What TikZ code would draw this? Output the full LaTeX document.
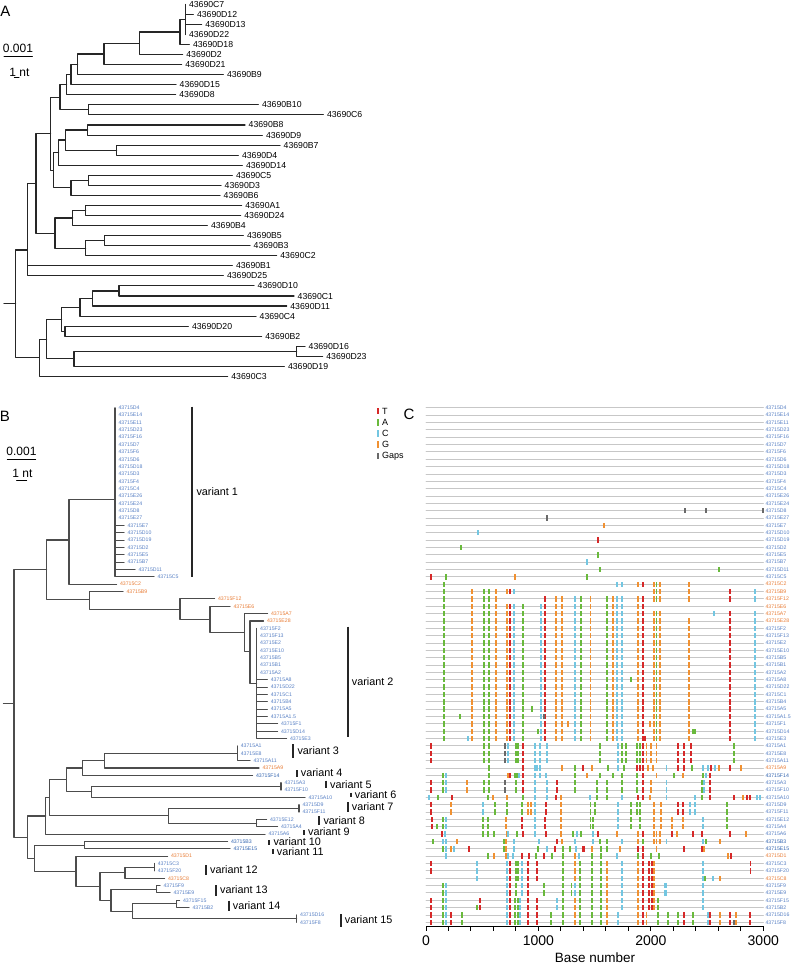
\documentclass[tikz,border=0pt]{standalone}
\usepackage{fontspec}
\setmainfont{Liberation Sans}

\definecolor{lb}{RGB}{88,128,196}
\definecolor{lo}{RGB}{232,125,55}
\definecolor{ld}{RGB}{50,100,175}
\definecolor{ntT}{RGB}{214,40,40}
\definecolor{ntA}{RGB}{105,185,60}
\definecolor{ntC}{RGB}{115,198,225}
\definecolor{ntG}{RGB}{240,145,50}
\definecolor{ntN}{RGB}{105,105,105}

% one row of the alignment: base/letter pairs
\newcommand{\mrow}[2]{\edef\mlist{#2}%
  \foreach \b/\s in \mlist {\fill[fill=nt\s] ({426+0.11243*\b-0.9},{407.8+(#1-1)*7.35-2.7}) rectangle ++(1.8,5.4);}}

% shared patterns
\def\mutsA{163/A,406/G,516/A,563/A,623/G,723/G,747/T,786/C,860/A,1020/C,1058/T,1153/G,1212/G,1325/C,1376/A,1464/G,1607/A,1660/G,1702/C,1740/C,1888/G,1927/T}
\def\mutsB{2028/G,2051/A,2081/G,2704/T,2926/C}
\def\mutsV{41/T,516/A,563/A,703/N,732/C,797/A,821/A,860/T,969/C,1014/C,1073/C,1547/A,1711/C,1740/A,1779/A,1880/A,1903/A,1927/T,1962/G,1998/G,2051/G,2238/T,2295/T,2357/T,2739/A}
\def\mutsE{41/T,148/A,178/C,362/G,516/A,563/A,703/N,797/A,860/T,969/C,1073/C,1162/T,1325/A,1518/A,1607/A,1740/A,1880/A,1933/T,1998/G,2140/C,2452/A,2472/C,2526/T}
\def\mutsG{41/T,219/G,510/C,614/A,717/A,851/A,910/G,931/G,969/C,1064/T,1201/G,1464/A,1503/A,1711/C,1820/A,1880/A,1903/A,2028/G,2090/G,2238/T,2289/T,2348/C,2392/C,2674/A}
\def\mutsH{50/T,148/A,178/C,510/A,554/A,711/G,851/T,969/C,1058/T,1201/G,1464/A,1482/A,1711/C,1820/A,1903/A,2028/G,2090/G,2185/G,2283/G,2461/C,2674/A}
\def\mutsL{451/C,717/C,747/T,797/A,821/A,851/C,904/T,984/T,1215/A,1325/G,1370/A,1473/A,1556/A,1607/G,1740/C,1888/G,1927/T,1983/T,2007/T,2028/G,2461/C}
\def\mutsM{148/A,178/C,717/C,747/T,797/A,851/C,904/T,1049/A,1215/A,1295/A,1325/C,1370/A,1473/A,1556/A,1607/G,1740/C,1888/G,1927/T,1983/T,2007/T,2028/G,2126/C,2140/C,2461/C}
\def\mutsP{41/T,148/A,178/C,480/T,717/C,747/T,792/A,821/A,836/C,904/T,984/T,1162/C,1215/A,1325/G,1370/A,1473/A,1556/A,1607/G,1740/C,1888/G,1927/T,1983/T,2007/T,2028/G,2066/A,2461/C}
\def\mutsQ{41/T,148/A,178/C,219/T,317/A,717/C,747/T,792/A,821/A,836/C,904/T,984/T,1109/A,1215/A,1325/G,1370/A,1473/A,1556/A,1607/G,1705/C,1888/G,1927/T,1962/G,2066/A,2155/A,2244/A,2295/T,2372/A,2511/C,2526/T,2615/G,2704/T,2757/G,2881/T}

\begin{document}
\begin{tikzpicture}[x=1pt,y=-1pt,line cap=round,line join=round,
    treeA/.style={line width=1.1pt,draw=black!85},
    treeB/.style={line width=1.1pt,draw=black!70},
    lblA/.style={anchor=west,inner xsep=3.5pt,inner ysep=0pt,font=\fontsize{8.7}{9}\selectfont},
    lblB/.style={anchor=west,inner xsep=3.3pt,inner ysep=0pt,font=\fontsize{5.2}{6}\selectfont},
    lblC/.style={anchor=west,inner xsep=2pt,inner ysep=0pt,font=\fontsize{5.2}{6}\selectfont},
    vbar/.style={line width=1.8pt,draw=black!85,line cap=butt},
    vlbl/.style={anchor=west,inner sep=0pt,text height=7.6pt,text depth=0.4pt,font=\fontsize{10.8}{12}\selectfont},
    panel/.style={inner sep=0pt,font=\fontsize{15}{16}\selectfont},
    sbtxt/.style={inner sep=0pt,font=\fontsize{12}{13}\selectfont},
    rowline/.style={draw=black!22,line width=0.9pt},
    axis/.style={line width=1pt,draw=black,line cap=butt},
    tick/.style={inner sep=0pt,font=\fontsize{14}{15}\selectfont},
    lgd/.style={anchor=west,inner sep=0pt,font=\fontsize{9}{10}\selectfont}]
    \useasboundingbox (0,0) rectangle (800,967);

    % ---------------- Panel A ----------------
    \node[panel] (pA) at (5.5,11.3) {A};
    \node[sbtxt] (sA1) at (18,48) {0.001};
    \draw[line width=1pt] (4,56) -- (32.3,56);
    \node[sbtxt] (sA2) at (19.5,72) {1 nt};
    \draw[line width=1pt] (14.3,77.5) -- (19,77.5);

    \foreach \n/\x/\y in {an0/185.3/19.4, an1/180/32, an2/139.3/43.3, an3/104/54,
        an4/77.7/64.4, an5/71/74.6, an6/66.7/84.7, an7/88.3/109.9, an8/60/97.3,
        an9/50.7/133.8, an10/87.7/130, an11/116.7/150.1, an12/65.3/140,
        an13/58.7/152.6, an14/88.3/180.3, an15/71/187.9, an16/53.3/170.2,
        an17/36/183.5, an18/55/233.1, an19/72.7/218, an20/85.7/210.5,
        an21/104.3/240.7, an22/85.7/248.2, an23/27.3/250, an24/119/291,
        an25/92.3/298.5, an26/80/307.3, an27/65/331.2, an28/61.7/319.3,
        an29/46.7/339.1, an30/296.7/351.3, an31/74/358.9, an32/39.3/357.8,
        anR/15.7/303.9, anS/4/303.9}
        \coordinate (\n) at (\x,\y);

    \foreach \n/\x/\y in {C7/185.3/4.3, D12/193.3/14.4, D13/201.7/24.4, D22/185.3/34.5,
        D18/189.3/44.5, D2/182.7/54.6, D21/181.7/64.7, B9/223.3/74.7, D15/176/84.8,
        D8/175.7/94.8, B10/258.3/104.9, C6/323.3/114.9, B8/245/125, D9/262.3/135.1,
        B7/280/145.1, D4/238.3/155.2, D14/242.3/165.2, C5/232.3/175.3, D3/221/185.3,
        B6/220/195.4, A1/241.7/205.5, D24/240.7/215.5, B4/207.3/225.6, B5/243.3/235.6,
        B3/250/245.7, C2/276.7/255.8, B1/232.3/265.8, D25/223.3/275.9, D10/254/285.9,
        C1/294/296, D11/286.7/306, C4/256/316.1, D20/188.3/326.2, B2/261.7/336.2,
        D16/305/346.3, D23/322.7/356.3, D19/284.3/366.4, C3/227.7/376.5}
        \node[lblA] (a\n) at (\x,\y) {43690\n};

    \foreach \p/\c in {an0/aC7, an0/aD12, an0/aD13, an0/aD22, an1/aD18, an2/aD2,
        an3/aD21, an4/aB9, an5/aD15, an6/aD8, an7/aB10, an7/aC6, an10/aB8, an10/aD9,
        an11/aB7, an11/aD4, an13/aD14, an14/aC5, an14/aD3, an15/aB6, an20/aA1,
        an20/aD24, an19/aB4, an21/aB5, an21/aB3, an22/aC2, an23/aB1, an23/aD25,
        an24/aD10, an24/aC1, an25/aD11, an26/aC4, an27/aD20, an27/aB2, an30/aD16,
        an30/aD23, an31/aD19, an32/aC3}
        \draw[treeA] (\p) |- (\c.west);
    \foreach \p/\c in {an1/an0, an2/an1, an3/an2, an4/an3, an5/an4, an6/an5, an8/an6,
        an8/an7, an9/an8, an12/an10, an12/an11, an13/an12, an15/an14, an16/an13,
        an16/an15, an9/an16, an17/an9, an19/an20, an22/an21, an18/an19, an18/an22,
        an17/an18, an23/an17, an25/an24, an26/an25, an28/an26, an28/an27, an31/an30,
        an29/an28, an29/an31, an32/an29, anR/an23, anR/an32}
        \draw[treeA] (\p) |- (\c);
    \draw[treeA] (anS) -- (anR);

    % ---------------- Panel B ----------------
    \node[panel] (pB) at (5,416) {B};
    \node[sbtxt] (sB1) at (21.5,451) {0.001};
    \draw[line width=1pt] (7.3,459) -- (35.7,459);
    \node[sbtxt] (sB2) at (22.5,473) {1 nt};
    \draw[line width=1pt] (16.7,480) -- (26.7,480);

    \foreach \n/\x/\y in {bn0/14/703.3, bnS/3.3/703.3, bn1/115/499.3, bn2/69/540,
        bn9/46.7/569.6, bn3/89.3/599.9, bn4/180/609.5, bn5/210/619.5, bn6/244.3/632.3,
        bn7/250/651.8, bn8/256.7/683.4, bn10/237.3/753.25, bn11/104.3/760.6,
        bn12/82.3/768, bn13/281/786.3, bn14/91.7/791.8, bn15/66.3/779.9,
        bn16/299/808.4, bn17/256.7/823.1, bn18/168.3/815.75, bn19/49.3/797.8,
        bn20/45.7/815.95, bn21/84.3/845.1, bn22/154.3/867.2, bn23/125/872.7,
        bn24/156.7/889.2, bn25/176.7/903.9, bn26/296.7/918.6, bn27/132.7/911.3,
        bn28/111/900.3, bn29/100/886.5, bn30/76/871.3, bn31/34.3/858.2,
        bn32/27.3/837.1}
        \coordinate (\n) at (\x,\y);

    % leaves of B and rows of C share the same order
    \foreach \n/\x/\c [count=\i] in {D4/115/lb, E14/115/lb, E11/115/lb, D23/115/lb,
        F16/115/lb, D7/115/lb, F6/115/lb, D6/115/lb, D18/115/lb, D3/115/lb, F4/115/lb,
        C4/115/lb, E26/115/lb, E24/115/lb, D8/115/lb, E27/115/lb, E7/124/lb,
        D10/124/lb, D19/124/lb, D2/124/lb, E5/124/lb, B7/124/lb, D11/135/lb,
        C5/154/lb, C2/116.5/lo, B9/123/lo, F12/214.5/lo, E6/230/lo, A7/267.5/lo,
        E28/263.5/lo, F2/256.7/lb, F13/256.7/lb, E2/256.7/lb, E10/256.7/lb,
        B5/256.7/lb, B1/256.7/lb, A2/256.7/lb, A8/267.3/lb, D22/267.3/lb,
        C1/267.3/lb, B4/267.3/lb, A5/267.3/lb, A1.5/267.3/lb, F1/277.5/lb,
        D14/277.5/lb, E3/286.5/lb, A1/237.3/lb, E8/237.3/lb, A11/250/lb, A9/259/lo,
        F14/252.5/ld, A3/281/lb, F10/281/lb, A10/305/lb, D9/299/lb, F11/299/lb,
        E12/266.5/lb, A4/277.5/lb, A6/265/lb, B3/227.5/ld, E15/230/ld, D1/167.5/lo,
        C3/154.3/lb, F20/154.3/lb, C8/164.5/lo, F9/160/lb, E9/170/lb, F15/179.5/lb,
        B2/189/lb, D16/296.7/lb, F8/296.7/lb}
    {
        \node[lblB,text=\c] (bl\i) at (\x,{407.8+(\i-1)*7.35}) {43715\n};
        \node[lblC,text=\c] (cl\i) at (763.3,{407.8+(\i-1)*7.35}) {43715\n};
        \draw[rowline] (426,{407.8+(\i-1)*7.35}) -- (cl\i.west);
    }

    \foreach \i in {1,...,24} \draw[treeB] (bn1) |- (bl\i.west);
    \foreach \i in {31,...,46} \draw[treeB] (bn8) |- (bl\i.west);
    \foreach \p/\i in {bn2/25, bn3/26, bn4/27, bn5/28, bn6/29, bn7/30, bn10/47,
        bn10/48, bn10/49, bn11/50, bn12/51, bn13/52, bn13/53, bn14/54, bn16/55,
        bn16/56, bn17/57, bn17/58, bn20/59, bn21/60, bn21/61, bn30/62, bn22/63,
        bn22/64, bn23/65, bn24/66, bn24/67, bn25/68, bn25/69, bn26/70, bn26/71}
        \draw[treeB] (\p) |- (bl\i.west);
    \foreach \p/\c in {bn2/bn1, bn9/bn2, bn9/bn3, bn3/bn4, bn4/bn5, bn5/bn6, bn6/bn7,
        bn7/bn8, bn0/bn9, bn0/bn32, bn11/bn10, bn12/bn11, bn15/bn12, bn14/bn13,
        bn15/bn14, bn19/bn15, bn18/bn16, bn18/bn17, bn19/bn18, bn20/bn19,
        bn32/bn20, bn31/bn21, bn23/bn22, bn29/bn23, bn28/bn24, bn27/bn25,
        bn27/bn26, bn28/bn27, bn29/bn28, bn30/bn29, bn31/bn30, bn32/bn31}
        \draw[treeB] (\p) |- (\c);
    \draw[treeB] (bnS) -- (bn0);

    % variant brackets (bar x, bar ends, label y)
    \foreach \k/\x/\ya/\yb/\ly in {1/192.3/406.7/576.7/491.7, 2/347.7/626.7/736.7/681.7,
        3/293.3/744.3/757.7/751, 4/296.7/770/776.7/773.3, 5/326/780.7/788.3/784.5,
        6/350.7/792.7/797.3/795, 7/347.7/802.3/811.7/807, 8/319.3/816/825/820.5,
        9/304/830/835/832.3, 10/269.3/840/845/841.6, 11/272.7/849/854/852.2,
        12/206/865/875/870, 13/216/885/895.7/890.3, 14/228.7/900.7/911/905.8,
        15/340.7/914/926.7/920.3}
    {
        \draw[vbar] (\x,\ya) -- (\x,\yb);
        \node[vlbl] (var\k) at (\x+4,\ly) {variant \k};
    }

    % ---------------- Panel C ----------------
    \node[panel] (pC) at (409,414) {C};
    \foreach \l/\s/\y [count=\k] in {T/T/411, A/A/422.3, C/C/433.3, G/G/444.5, Gaps/N/455.8}
    {
        \fill[fill=nt\s] (376.8,\y-3.2) rectangle ++(1.9,6.4);
        \node[lgd] (lg\k) at (382,\y) {\l};
    }

    % point changes
    \mrow{15}{2303/N,2490/N,2994/N}
    \mrow{16}{1073/N}
    \mrow{17}{1583/G}
    \mrow{18}{459/C}
    \mrow{19}{1533/T}
    \mrow{20}{308/A}
    \mrow{21}{1530/A}
    \mrow{22}{1435/C}
    \mrow{23}{1547/A,2609/A}
    \mrow{24}{44/T,178/A,792/G,1435/A}
    \mrow{25}{163/A,1702/C,1740/C,1888/G,1927/T,2028/G,2051/A,2081/G,2339/G}
    \mrow{26}{163/A,406/G,516/A,563/A,623/G,723/G,747/T,786/C,2028/G,2051/A,2081/G,2339/G,2704/T,2926/C}
    \mrow{27}{163/A,406/G,516/A,563/A,623/G,1058/T,1153/G,1212/G,1325/C,1376/A,1464/G,1607/A,1660/G,1702/C,1740/C,1888/G,1927/T,2028/G,2051/A,2081/G,2339/G,2704/T,2926/C}
    \mrow{28}{\mutsA}
    \mrow{29}{\mutsA,\mutsB,2561/C}
    \foreach \r in {30,...,46} {\mrow{\r}{\mutsA,\mutsB,2339/G}}
    \mrow{38}{1820/A}
    \mrow{42}{940/A}
    \mrow{43}{302/A,1049/N}
    \mrow{44}{1260/G,1992/G}
    \mrow{45}{999/A,2372/A,2392/A}
    \mrow{46}{371/C,1948/T}
    \foreach \r in {47,48,49} {\mrow{\r}{\mutsV}}
    \mrow{50}{563/A,860/T,969/C,984/C,1014/C,1212/G,1325/A,1393/T,1473/G,1616/A,1711/C,1761/A,1880/T,1903/T,1933/T,1977/G,2022/G,2140/C,2238/T,2295/T,2363/A,2466/C,2511/C,2532/T,2570/C,2609/G,2704/T,2801/G}
    \mrow{51}{148/A,178/C,563/A,732/G,747/T,792/A,812/A,830/C,860/T,969/C,1014/C,1067/C,1325/A,1429/G,1547/A,1666/A,1740/A,1880/A,1927/T,2051/G,2206/A,2289/G,2466/A,2490/C,2526/T}
    \foreach \r in {52,53} {\mrow{\r}{\mutsE}}
    \mrow{54}{30/C,104/A,228/T,554/A,599/G,717/G,860/A,969/C,1073/C,1156/T,1201/G,1459/C,1518/A,1607/A,1740/C,1888/T,1927/T,1992/G,2140/C,2392/C,2452/A,2526/T,2739/T,2816/G,2852/T,2881/T,2941/C,2970/C}
    \foreach \r in {55,56} {\mrow{\r}{\mutsG}}
    \foreach \r in {57,58} {\mrow{\r}{\mutsH}}
    \mrow{58}{95/A}
    \mrow{59}{139/T,169/C,510/A,554/A,608/A,717/G,732/C,806/A,860/T,969/C,1064/T,1201/G,1310/A,1340/C,1376/A,1482/C,1527/T,1702/G,1888/G,1927/T,2028/G,2051/G,2081/G,2185/T,2235/G,2372/T,2452/T,2704/T,2846/G}
    \mrow{60}{59/A,148/C,178/C,279/G,697/A,711/G,786/C,1008/C,1162/T,1207/G,1325/C,1482/C,1547/A,1607/A,1740/C,1888/G,1927/A,2028/G,2051/G,2081/G,2140/C,2466/C,2490/A,2615/G}
    \mrow{61}{148/A,178/C,222/G,249/C,385/T,697/A,711/G,786/C,999/A,1073/C,1147/T,1215/A,1281/A,1334/C,1393/T,1408/T,1473/G,1556/A,1607/A,1725/G,1888/T,1933/T,2051/G,2295/T,2452/T,2472/G}
    \mrow{62}{178/C,554/A,608/G,711/G,732/C,777/C,851/T,916/T,978/A,1052/T,1118/A,1215/A,1325/G,1364/C,1473/A,1556/A,1702/C,1888/A,1927/T,1998/A,2075/A,2689/G,2710/T}
    \foreach \r in {63,64} {\mrow{\r}{41/T,\mutsL,2887/T}}
    \mrow{65}{\mutsL,2481/A,2555/C,2615/G}
    \foreach \r in {66,67} {\mrow{\r}{\mutsM}}
    \foreach \r in {68,69} {\mrow{\r}{\mutsP}}
    \mrow{69}{451/A}
    \foreach \r in {70,71} {\mrow{\r}{\mutsQ}}
    \mrow{71}{2739/N}

    % axis
    \draw[axis] (426,926) -- (763.3,926);
    \foreach \t in {0,200,...,3000}
        \draw[axis] ({426+0.11243*\t},926) -- ++(0,4.5);
    \foreach \t in {0,1000,2000,3000}
        \node[tick] (tk\t) at ({426+0.11243*\t},941) {\t};
    \node[inner sep=0pt,font=\fontsize{13.5}{14}\selectfont] (xlab) at (595,958) {Base number};
\end{tikzpicture}
\end{document}
